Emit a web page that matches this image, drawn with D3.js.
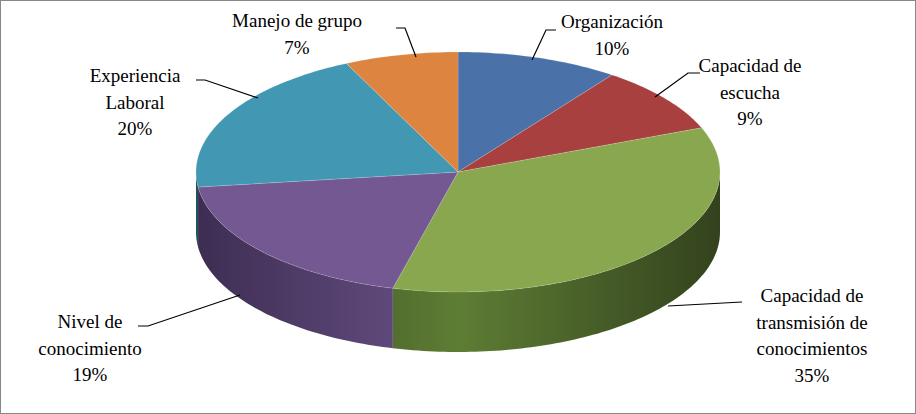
<!DOCTYPE html>
<html><head><meta charset="utf-8">
<script src="https://cdn.jsdelivr.net/npm/d3@7"></script>
<style>body{margin:0;background:#fff} text{font-family:"Liberation Serif","Times New Roman",serif;}</style></head>
<body><svg id="c" width="916" height="414"></svg>
<script>
const categories = ["Organización","Capacidad de escucha","Capacidad de transmisión de conocimientos","Nivel de conocimiento","Experiencia Laboral","Manejo de grupo"];
const values = [10, 9, 35, 19, 20, 7];
const labelLines = [["Organización","10%"],["Capacidad de","escucha","9%"],["Capacidad de","transmisión de","conocimientos","35%"],["Nivel de","conocimiento","19%"],["Experiencia","Laboral","20%"],["Manejo de grupo","7%"]];
const topColors = ["#4a72a8","#a8403f","#88a74f","#735891","#4298b2","#dc8440"];
const sideDark = ["#2c4466","#5c2221","#33421d","#3d2d52","#21505e","#7a4620"];
const sideLight = ["#4a6ea0","#943a38","#5e7d34","#6a5288","#3a8aa0","#c47838"];
const labelLayout = [
 {x:612,y:28,line:[[532,60],[546,30],[556,30]]},
 {x:750,y:72,line:[[655,97],[688,73],[700,73]]},
 {x:812,y:302,line:[[668,306],[742,302]]},
 {x:90,y:328,line:[[240,295],[148,326],[138,326]]},
 {x:135,y:82,line:[[258,98],[205,80],[196,80]]},
 {x:297,y:27,line:[[416,57],[405,28],[396,28]]}
];
const svg = d3.select("#c");
svg.append("rect").attr("x",0.5).attr("y",0.5).attr("width",915).attr("height",413).attr("fill","#fff").attr("stroke","#888");
const cx=458, cy=172, rx=262, ry=120, depth=60;
const total = d3.sum(values);
const angle = d3.scaleLinear().domain([0,total]).range([0,2*Math.PI]);
const pt=(a,dy=0)=>[cx+rx*Math.sin(a), cy-ry*Math.cos(a)+dy];
let acc=0;
const slices = values.map((v,i)=>{const s={i,a0:angle(acc),a1:angle(acc+v)};acc+=v;return s;});
const defs=svg.append("defs");
function arcPts(a0,a1,dy){const n=Math.max(2,Math.ceil((a1-a0)/0.02));return d3.range(n+1).map(k=>pt(a0+(a1-a0)*k/n,dy));}
slices.forEach(s=>{
  const b0=Math.max(s.a0,Math.PI/2), b1=Math.min(s.a1,3*Math.PI/2);
  if(b1<=b0) return;
  const g=defs.append("linearGradient").attr("id","g"+s.i).attr("gradientUnits","userSpaceOnUse")
    .attr("x1",cx-rx).attr("x2",cx+rx).attr("y1",0).attr("y2",0);
  g.append("stop").attr("offset",0).attr("stop-color",sideDark[s.i]);
  g.append("stop").attr("offset",0.5).attr("stop-color",sideLight[s.i]);
  g.append("stop").attr("offset",1).attr("stop-color",sideDark[s.i]);
  const top=arcPts(b0,b1,0), bot=arcPts(b0,b1,depth).reverse();
  svg.append("path").attr("d",d3.line()(top.concat(bot))+"Z").attr("fill","url(#g"+s.i+")");
});
slices.forEach(s=>{
  const p=[[cx,cy]].concat(arcPts(s.a0,s.a1,0));
  svg.append("path").attr("d",d3.line()(p)+"Z").attr("fill",topColors[s.i]).attr("stroke","#fff").attr("stroke-width",0.4).attr("stroke-opacity",0.4);
});
labelLines.forEach((lines,i)=>{
  const L=labelLayout[i];
  svg.append("path").attr("d",d3.line()(L.line)).attr("fill","none").attr("stroke","#000").attr("stroke-width",1.2);
  const t=svg.append("text").attr("text-anchor","middle").attr("font-size",19);
  lines.forEach((ln,k)=>t.append("tspan").attr("x",L.x).attr("y",L.y+k*26.5).text(ln));
});
</script></body></html>
